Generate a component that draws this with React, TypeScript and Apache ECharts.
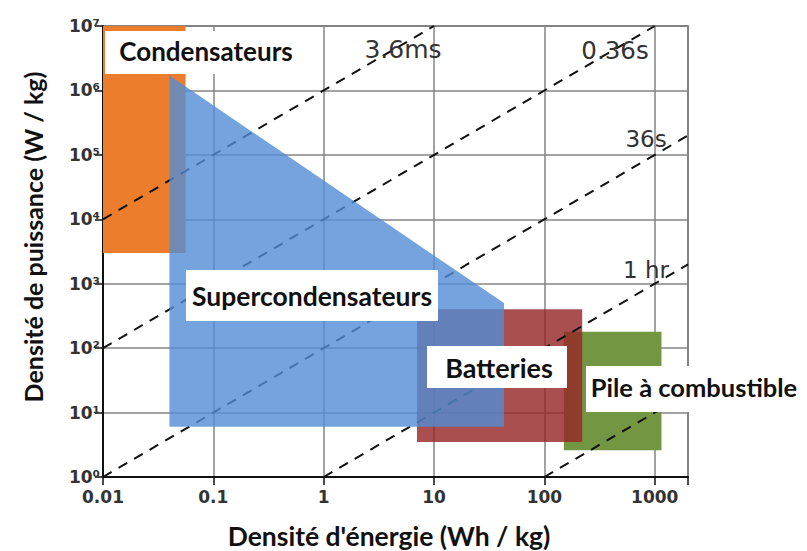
import React, { useEffect, useRef } from "react";
import * as echarts from "echarts";

// Axis ranges (log scales)
const xMin = 0.01;
const xMax = 2000;
const yMin = 1;
const yMax = 1e7;

// Region polygons: [energy density Wh/kg, power density W/kg]
const condensateurs = [[0.01, 3000], [0.056, 3000], [0.056, 1e7], [0.01, 1e7]];
const supercondensateurs = [[0.04, 6], [0.04, 1.7e6], [43, 500], [43, 6]];
const batteries = [[7, 3.5], [7, 400], [220, 400], [220, 3.5]];
const piles = [[150, 2.6], [150, 180], [1150, 180], [1150, 2.6]];

// Constant discharge-time lines (endpoints)
const line3_6ms = [[0.01, 1e4], [10, 1e7]];
const line0_36s = [[0.01, 100], [1000, 1e7]];
const line36s = [[0.01, 1], [2000, 2e5]];
const line1hr = [[1, 1], [2000, 2000]];
const line100hr = [[100, 1], [2000, 20]];

const timeLabels = ["3.6ms", "0.36s", "36s", "1 hr"];
const regionLabels = ["Condensateurs", "Supercondensateurs", "Batteries", "Pile à combustible"];

const SUP = "⁰¹²³⁴⁵⁶⁷⁸⁹";

export default function App() {
  const ref = useRef<HTMLDivElement>(null);
  useEffect(() => {
    if (!ref.current) return;
    const chart = echarts.init(ref.current, null, { renderer: "svg" });

    const lowerRegions = [
      { pts: piles, color: "rgba(114,150,66,1)" },
      { pts: batteries, color: "rgba(150,40,40,0.82)" },
      { pts: condensateurs, color: "rgba(235,125,45,1)" },
    ];
    const upperRegions = [{ pts: supercondensateurs, color: "rgba(82,140,212,0.8)" }];

    const makeRegionSeries = (regions: { pts: number[][]; color: string }[], z: number) => ({
      type: "custom",
      z,
      silent: true,
      coordinateSystem: "cartesian2d",
      data: regions.map((r, i) => [r.pts[0][0], r.pts[0][1], i]),
      encode: { x: 0, y: 1 },
      renderItem: (params: any, api: any) => {
        const idx = api.value(2);
        const r = regions[idx];
        const points = r.pts.map((p) => api.coord(p));
        return {
          type: "polygon",
          shape: { points },
          style: { fill: r.color, stroke: null },
        };
      },
    });

    const dashed = (data: number[][]) => ({
      type: "line",
      data,
      z: 3,
      symbol: "none",
      silent: true,
      lineStyle: { color: "#111", width: 2, type: [10, 8] },
    });

    const pow10Label = (v: number) => {
      const e = Math.round(Math.log10(v));
      if (Math.abs(Math.log10(v) - e) > 1e-6) return "";
      return e;
    };

    const labelBox = (x: number, y: number, w: number, h: number, text: string, cx: number, cy: number, size: number) => [
      { type: "rect", shape: { x, y, width: w, height: h }, style: { fill: "#fff" }, z: 100 },
      {
        type: "text",
        x: cx,
        y: cy,
        z: 101,
        style: {
          text,
          fill: "#111",
          font: `bold ${size}px Lato`,
          align: "center",
          verticalAlign: "middle",
        },
      },
    ];

    const lineLabel = (text: string, cx: number, cy: number, size: number) => ({
      type: "text",
      x: cx,
      y: cy,
      z: 100,
      style: {
        text,
        fill: "#333",
        font: `${size}px 'DejaVu Sans'`,
        align: "center",
        verticalAlign: "middle",
      },
    });

    const tickLabelStyle = {
      color: "#333",
      fontFamily: "DejaVu Sans",
      fontWeight: "bold",
      fontSize: 17,
    };

    chart.setOption({
      animation: false,
      grid: {
        left: 103,
        top: 26,
        right: 119,
        bottom: 74,
        containLabel: false,
        show: true,
        borderColor: "#555",
        borderWidth: 1.5,
      },
      xAxis: {
        type: "log",
        logBase: 10,
        min: xMin,
        max: xMax,
        axisLine: { show: true, lineStyle: { color: "#111", width: 2 } },
        axisTick: { show: true, length: 8, inside: false, lineStyle: { color: "#111", width: 1.5 } },
        minorTick: { show: false },
        splitLine: { show: true, lineStyle: { color: "#858585", width: 1.5 } },
        axisLabel: {
          margin: 11,
          ...tickLabelStyle,
          formatter: (v: number) => {
            const e = pow10Label(v);
            if (e === "") return "";
            return String(parseFloat(v.toPrecision(6)));
          },
        },
      },
      yAxis: {
        type: "log",
        logBase: 10,
        min: yMin,
        max: yMax,
        splitNumber: 7,
        axisLine: { show: true, lineStyle: { color: "#111", width: 2 } },
        axisTick: { show: true, length: 8, inside: false, lineStyle: { color: "#111", width: 1.5 } },
        minorTick: { show: false },
        splitLine: { show: true, lineStyle: { color: "#858585", width: 1.5 } },
        axisLabel: {
          margin: 3,
          ...tickLabelStyle,
          formatter: (v: number) => {
            const e = pow10Label(v);
            if (e === "") return "";
            return "10" + String(e).split("").map((d) => SUP[+d]).join("");
          },
        },
      },
      series: [
        makeRegionSeries(lowerRegions, 2),
        dashed(line3_6ms),
        dashed(line0_36s),
        dashed(line36s),
        dashed(line1hr),
        dashed(line100hr),
        makeRegionSeries(upperRegions, 4),
      ],
      graphic: [
        ...labelBox(105, 31, 200, 43, regionLabels[0], 206, 51, 26),
        ...labelBox(186, 270, 252, 51, regionLabels[1], 312, 296, 26.5),
        ...labelBox(427, 346, 140, 42, regionLabels[2], 499, 367, 27),
        ...labelBox(586, 366, 221, 46, regionLabels[3], 694, 387, 25.5),
        lineLabel(timeLabels[0], 403, 49, 25),
        lineLabel(timeLabels[1], 615, 50, 24.5),
        lineLabel(timeLabels[2], 646, 139, 23),
        lineLabel(timeLabels[3], 646, 270, 23),
        {
          type: "text",
          x: 389,
          y: 536,
          z: 100,
          style: {
            text: "Densité d'énergie (Wh / kg)",
            fill: "#111",
            font: "bold 26.5px Lato",
            align: "center",
            verticalAlign: "middle",
          },
        },
        {
          type: "text",
          x: 33,
          y: 237,
          rotation: Math.PI / 2,
          z: 100,
          style: {
            text: "Densité de puissance (W / kg)",
            fill: "#111",
            font: "bold 25px Lato",
            align: "center",
            verticalAlign: "middle",
          },
        },
      ],
    });
    return () => chart.dispose();
  }, []);
  return (
    <div
      ref={ref}
      style={{ position: "fixed", left: 0, top: 0, width: 807, height: 551, background: "#fff" }}
    />
  );
}
